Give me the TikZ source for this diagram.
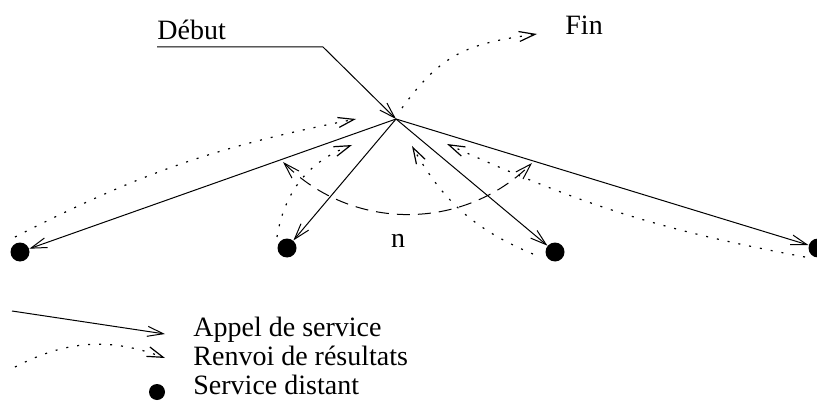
\documentclass[tikz,border=0pt]{standalone}
\usepackage{fontspec}
\setmainfont{Liberation Serif}
\usetikzlibrary{arrows.meta,positioning}

\begin{document}
\begin{tikzpicture}
        [ x = .5pt, y = .5pt
        , font = \fontsize{14}{17}\selectfont
        , service/.style =
          { fill, circle, inner sep=0pt, minimum size=9.5pt }
        , txt/.style =
          { inner sep=0pt, anchor=base west }
        , call/.style =
          { -{Straight Barb[length=8pt,width=5pt]}, line width=.5pt }
        , result/.style =
          { call, line width=.6pt, dash pattern=on 1pt off 4.5pt }
        , count/.style =
          { {Straight Barb[length=8pt,width=5pt]}-{Straight Barb[length=8pt,width=5pt]}
          , line width=.5pt, dash pattern=on 6.5pt off 4pt }
        ]
        \useasboundingbox (0,0) rectangle (817,407);

        \coordinate (hub) at (396,288);
        \node [service] (d1) at (20,155) {};
        \node [service] (d2) at (287,159) {};
        \node [service] (d3) at (555,155) {};
        \node [service] (d4) at (818,159) {};
        \node [txt] (debut) at (157,367) {Début};
        \node [txt] (fin) at (565,372) {Fin};
        \node [inner sep=0pt, anchor=base] (n) at (398,160) {n};

        % start and end
        \coordinate (dstart) at (157,360);
        \coordinate (dcorner) at (323,360);
        \coordinate (fstart) at (402,299);
        \coordinate (fend) at (537,373);
        \draw [call] (dstart) -- (dcorner) -- (hub);
        \draw [result] (fstart) to [out=54, in=188, looseness=1.15] (fend);

        % calls
        \draw [call] (hub) -- (d1);
        \draw [call] (hub) -- (d2);
        \draw [call] (hub) -- (d3);
        \draw [call] (hub) -- (d4);

        % results
        \coordinate (r1a) at (15,170);
        \coordinate (r1b) at (356,288);
        \coordinate (r2a) at (277,170);
        \coordinate (r2b) at (352,262);
        \coordinate (r3a) at (533,153);
        \coordinate (r3b) at (412,261);
        \coordinate (r4a) at (805,150);
        \coordinate (r4b) at (447,263);
        \draw [result] (r1a) to [bend left=8] (r1b);
        \draw [result] (r2a) to [bend left=30] (r2b);
        \draw [result] (r3a) to [bend left=19] (r3b);
        \draw [result] (r4a) to [bend left=7] (r4b);

        % n services
        \coordinate (na) at (283,245);
        \coordinate (nb) at (532,244);
        \draw [count] (na) to [bend right=45] (nb);

        % legend
        \coordinate (la) at (12,96);
        \coordinate (lb) at (165,73);
        \coordinate (lc) at (15,40);
        \coordinate (ld) at (165,49);
        \draw [call] (la) -- (lb);
        \draw [result] (lc) to [bend left=24] (ld);
        \node [service, minimum size=8pt] (ls) at (157,15) {};
        \node [txt] (lcall) at (193,71) {Appel de service};
        \node [txt] (lresult) at (193,42) {Renvoi de résultats};
        \node [txt] (lservice) at (193,13) {Service distant};
\end{tikzpicture}
\end{document}
